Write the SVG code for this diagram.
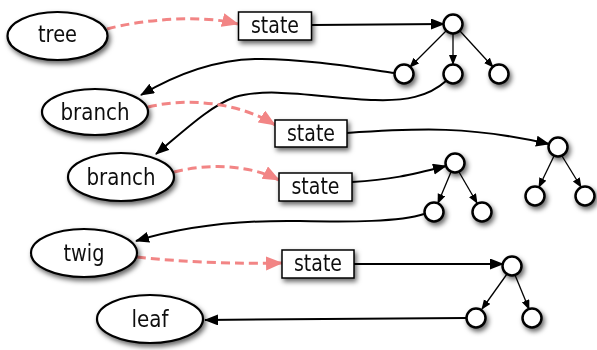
<svg xmlns="http://www.w3.org/2000/svg" width="597" height="350" viewBox="0 0 597 350">
<style>
.node ellipse{fill:#fff;stroke:#000;stroke-width:2.2}
.node rect{fill:#fff;stroke:#000;stroke-width:1.5}
.node circle{fill:#fff;stroke:#000;stroke-width:2.5}
.node{filter:url(#sh)}
text{font-family:"DejaVu Sans","Liberation Sans",sans-serif;font-size:23px;fill:#111;text-anchor:middle}
.c{fill:none;stroke:#000;stroke-width:2;marker-end:url(#ab)}
.t{fill:none;stroke:#000;stroke-width:1.3;marker-end:url(#as)}
.d{fill:none;stroke:#f28585;stroke-width:3;stroke-dasharray:9 5;marker-end:url(#ap)}
</style>
<defs>
<filter id="sh" x="-30%" y="-30%" width="170%" height="180%">
<feDropShadow dx="2" dy="3" stdDeviation="2.5" flood-color="#000" flood-opacity="0.6"/>
</filter>
<marker id="ab" markerUnits="userSpaceOnUse" markerWidth="15" markerHeight="12" refX="13" refY="5.5" orient="auto"><path d="M0,0 L14,5.5 L0,11 z" fill="#000"/></marker>
<marker id="as" markerUnits="userSpaceOnUse" markerWidth="11" markerHeight="9" refX="9" refY="4" orient="auto"><path d="M0,0 L10,4 L0,8 z" fill="#000"/></marker>
<marker id="ap" markerUnits="userSpaceOnUse" markerWidth="18" markerHeight="15" refX="16" refY="7" orient="auto"><path d="M0,0 L17,7 L0,14 z" fill="#f28585"/></marker>
</defs>
<g id="connectors">
<path class="d" d="M107,29 C140,20 200,14 238,24"/>
<path class="c" d="M312,25 L444,24"/>
<path class="t" d="M446,31 L410,67"/>
<path class="t" d="M453,34 L453,64"/>
<path class="t" d="M460,31 L493,67"/>
<path class="c" d="M394,73 C360,68 300,58 255,59 C215,60 175,75 141,95"/>
<path class="c" d="M446,81 C428,97 405,101 375,100 C330,99 270,86 235,97 C210,106 185,130 156,154"/>
<path class="d" d="M148,107 C190,97 240,103 275,125"/>
<path class="c" d="M347,133 C420,128 470,126 549,144"/>
<path class="t" d="M554,156 L539,187"/>
<path class="t" d="M562,156 L581,187"/>
<path class="d" d="M174,172 C210,163 250,165 279,180"/>
<path class="c" d="M352,182 C390,180 410,175 446,166"/>
<path class="t" d="M451,172 L438,203"/>
<path class="t" d="M459,172 L477,203"/>
<path class="c" d="M424,214 C400,222 350,222 300,221 C240,220 185,226 136,241"/>
<path class="d" d="M137,257 C180,262 240,264 282,263"/>
<path class="c" d="M354,264 L503,264"/>
<path class="t" d="M507,274 L482,309"/>
<path class="t" d="M515,275 L529,309"/>
<path class="c" d="M466,318 L205,320"/>
</g>
<g id="tree" class="node"><ellipse cx="57.5" cy="36" rx="50" ry="24"/><text x="57.5" y="42" textLength="39" lengthAdjust="spacingAndGlyphs">tree</text></g>
<g id="branch1" class="node"><ellipse cx="95" cy="112" rx="53" ry="23"/><text x="95" y="119.5" textLength="69" lengthAdjust="spacingAndGlyphs">branch</text></g>
<g id="branch2" class="node"><ellipse cx="121" cy="177" rx="53" ry="24"/><text x="121" y="184.5" textLength="69" lengthAdjust="spacingAndGlyphs">branch</text></g>
<g id="twig" class="node"><ellipse cx="84" cy="253" rx="53" ry="24"/><text x="84" y="260.5" textLength="41" lengthAdjust="spacingAndGlyphs">twig</text></g>
<g id="leaf" class="node"><ellipse cx="150" cy="319" rx="53" ry="24"/><text x="150" y="326.5" textLength="37" lengthAdjust="spacingAndGlyphs">leaf</text></g>
<g id="state1" class="node"><rect x="238.5" y="12" width="73" height="28"/><text x="275" y="33" textLength="48" lengthAdjust="spacingAndGlyphs">state</text></g>
<g id="state2" class="node"><rect x="275" y="120" width="72" height="27"/><text x="311" y="141" textLength="48" lengthAdjust="spacingAndGlyphs">state</text></g>
<g id="state3" class="node"><rect x="279" y="173" width="73" height="28"/><text x="315.5" y="194" textLength="48" lengthAdjust="spacingAndGlyphs">state</text></g>
<g id="state4" class="node"><rect x="282" y="250" width="72" height="28"/><text x="318" y="271" textLength="48" lengthAdjust="spacingAndGlyphs">state</text></g>
<g id="c1" class="node"><circle cx="453" cy="24" r="9.5"/></g>
<g id="c1a" class="node"><circle cx="404" cy="74" r="9.5"/></g>
<g id="c1b" class="node"><circle cx="453" cy="74" r="9.5"/></g>
<g id="c1c" class="node"><circle cx="499" cy="74" r="9.5"/></g>
<g id="c2" class="node"><circle cx="558" cy="147" r="9.5"/></g>
<g id="c2a" class="node"><circle cx="535" cy="196" r="9.5"/></g>
<g id="c2b" class="node"><circle cx="585" cy="196" r="9.5"/></g>
<g id="c3" class="node"><circle cx="455" cy="163" r="9.5"/></g>
<g id="c3a" class="node"><circle cx="434" cy="212" r="9.5"/></g>
<g id="c3b" class="node"><circle cx="482" cy="212" r="9.5"/></g>
<g id="c4" class="node"><circle cx="512" cy="266" r="9.5"/></g>
<g id="c4a" class="node"><circle cx="476" cy="318" r="9.5"/></g>
<g id="c4b" class="node"><circle cx="532" cy="318" r="9.5"/></g>
</svg>
